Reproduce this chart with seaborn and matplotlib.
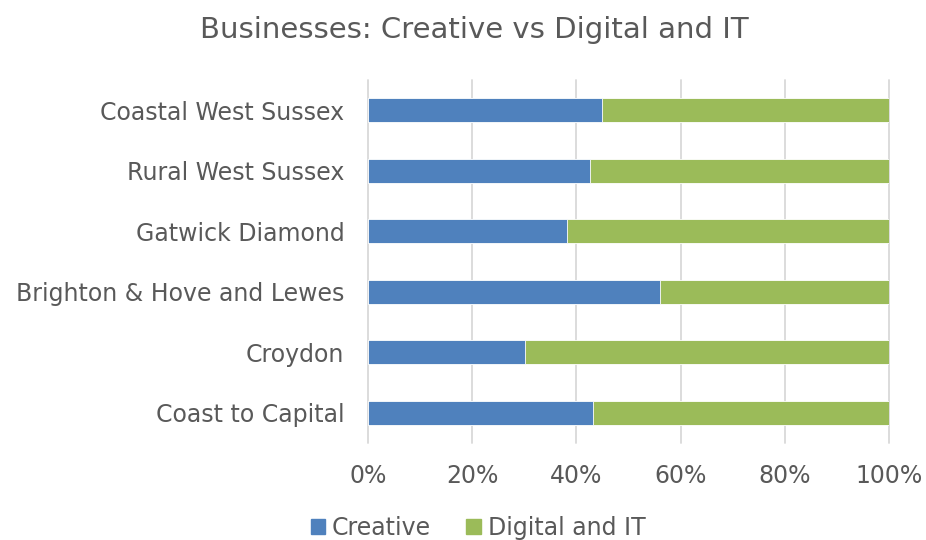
import matplotlib
matplotlib.use("Agg")
import matplotlib.pyplot as plt
import matplotlib.patches as mpatches
from matplotlib.ticker import FuncFormatter
import seaborn as sns
import pandas as pd

# Share of businesses by sub-region (percent)
regions = ["Coastal West Sussex", "Rural West Sussex", "Gatwick Diamond",
           "Brighton & Hove and Lewes", "Croydon", "Coast to Capital"]
creative = [44.9, 42.6, 38.2, 56.0, 30.2, 43.2]
digital_it = [55.1, 57.4, 61.8, 44.0, 69.8, 56.8]

series_names = ["Creative", "Digital and IT"]
colors = ["#4F81BD", "#9BBB59"]
text_color = "#595959"

df = pd.DataFrame({"region": regions, "creative": creative, "digital": digital_it})
df["total"] = df["creative"] + df["digital"]

sns.set_theme(style="white")
plt.rcParams["font.family"] = ["DejaVu Sans"]

fig = plt.figure(figsize=(9.26, 5.4), dpi=100)
ax = fig.add_axes([368 / 926, 1 - 443 / 540, (889 - 368) / 926, (443 - 80) / 540])

# Stacked bars: full length in green, creative share over it in blue
sns.barplot(data=df, y="region", x="total", color=colors[1], width=0.4,
            orient="h", ax=ax, saturation=1, edgecolor="white", linewidth=0.6,
            zorder=3)
sns.barplot(data=df, y="region", x="creative", color=colors[0], width=0.4,
            orient="h", ax=ax, saturation=1, edgecolor="white", linewidth=0.6,
            zorder=4)

ax.set_xlim(0, 100)
ax.set_ylim(5.5, -0.5)
ax.set_xticks([0, 20, 40, 60, 80, 100])
ax.xaxis.set_major_formatter(FuncFormatter(lambda v, p: f"{v:.0f}%"))
ax.grid(axis="x", color="#D9D9D9", linewidth=1.3, zorder=0)
for gl in ax.get_xgridlines():
    gl.set_clip_on(False)
ax.set_axisbelow(True)
for s in ax.spines.values():
    s.set_visible(False)
ax.set_xlabel("")
ax.set_ylabel("")
ax.tick_params(axis="x", length=0, pad=15, labelsize=17, labelcolor=text_color)
ax.tick_params(axis="y", length=0, pad=17, labelsize=17, labelcolor=text_color)

fig.text(474 / 926, 1 - 30 / 540, "Businesses: Creative vs Digital and IT",
         ha="center", va="center", fontsize=21, color=text_color)

handles = [mpatches.Patch(color=c, label=n) for c, n in zip(colors, series_names)]
fig.legend(handles=handles, loc="center", bbox_to_anchor=(478 / 926, 1 - 528 / 540),
           ncol=2, frameon=False, fontsize=17, handlelength=0.6, handleheight=0.6,
           handletextpad=0.3, columnspacing=1.5, labelcolor=text_color)

fig.savefig("out.png", dpi=100)
